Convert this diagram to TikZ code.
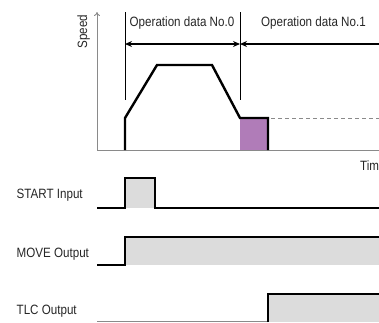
\documentclass[tikz,border=0pt]{standalone}
\usepackage{fontspec}
\setmainfont{Liberation Sans}[FakeStretch=0.86]
\usetikzlibrary{arrows.meta,positioning}
\definecolor{sigfill}{HTML}{DCDCDC}
\definecolor{dwell}{HTML}{B07CB8}
\definecolor{axisgray}{HTML}{8A8A8A}

\begin{document}
\begin{tikzpicture}[>=Stealth, x=1pt, y=-1pt,
  every node/.style={font=\fontsize{13.5}{15}\selectfont, inner sep=0pt, text=black!85},
  signal/.style={line width=2.4pt, line join=miter},
  axis/.style={axisgray, line width=0.9pt},
  marker/.style={line width=0.7pt},
  span/.style={line width=1.3pt, {Stealth[length=7pt,width=6pt]}-{Stealth[length=7pt,width=6pt]}}]
  \useasboundingbox (0,0) rectangle (379,322);
  \clip (0,0) rectangle (379,322);
  % speed chart
  \coordinate (o) at (97,150);
  \coordinate (ytop) at (97,12);
  \coordinate (xend) at (379,150);
  \fill[dwell] (240,118) rectangle (268,150);
  \draw[axis, -{To[length=4pt,width=6pt]}] (o) -- (ytop);
  \draw[axis] (o) -- (xend);
  \node[rotate=90, anchor=base] (speed) at (87,31.5) {Speed};
  \node[anchor=base west] (time) at (360,170) {Time};
  % operation data ranges
  \foreach \i/\x in {0/125,1/240} {
    \coordinate (top\i) at (\x,12);
    \coordinate (bot\i) at (\x,100);
    \coordinate (mid\i) at (\x,44);
    \draw[marker] (top\i) -- (bot\i);
  }
  \coordinate (mid2) at (380,44);
  \draw[span] (mid0) -- (mid1);
  \draw[line width=1.3pt, {Stealth[length=7pt,width=6pt]}-] (mid1) -- (mid2);
  \node[anchor=base west] (data0) at (129.5,26) {Operation data No.0};
  \node[anchor=base west] (data1) at (261,26) {Operation data No.1};
  % speed profile
  \draw[signal] (125,150) -- (125,118) -- (157,65) -- (212,65)
    -- (240,118) -- (268,118) -- (268,150);
  \draw[axisgray, line width=0.9pt, dash pattern=on 4pt off 3pt] (271,118) -- (379,118);
  % signal labels
  \foreach \name/\txt/\y in {start/START Input/198.5,move/MOVE Output/257,tlc/TLC Output/314.5} {
    \node[anchor=base west] (\name) at (16.5,\y) {\txt};
  }
  % START input
  \fill[sigfill] (125,178) rectangle (155,208);
  \draw[signal] (97,208) -- (125,208) -- (125,178) -- (155,178) -- (155,208) -- (379,208);
  % MOVE output
  \fill[sigfill] (125,237) rectangle (379,265);
  \draw[signal] (97,265) -- (125,265) -- (125,237) -- (379,237);
  % TLC output
  \fill[sigfill] (268,294) rectangle (379,322);
  \draw[axisgray, line width=0.9pt] (97,321) -- (268,321);
  \draw[signal] (268,322) -- (268,294) -- (379,294);
\end{tikzpicture}
\end{document}
